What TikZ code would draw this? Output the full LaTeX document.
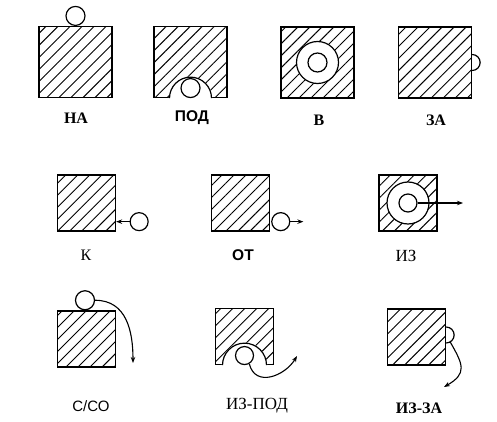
\documentclass[tikz,border=0pt]{standalone}
\usepackage{fontspec}
\setmainfont{Liberation Serif}
\setsansfont{Liberation Sans}
\usetikzlibrary{arrows.meta, positioning, calc, patterns.meta}

\begin{document}
\begin{tikzpicture}[x=1pt, y=1pt,
    block/.style={draw, line width=1.3pt, inner sep=0pt,
        pattern={Lines[angle=45, distance=8.5pt, line width=0.95pt]}},
    big/.style={block, minimum width=73pt, minimum height=71pt},
    small/.style={block, minimum width=58pt, minimum height=56pt},
    ball/.style={draw, circle, line width=1.2pt, fill=white, inner sep=0pt, minimum size=19pt},
    ring/.style={draw, circle, line width=1.2pt, fill=white, inner sep=0pt, minimum size=42pt},
    move/.style={-{Stealth[length=6pt, width=4.5pt]}, line width=1.1pt},
    lbl/.style={font={\fontsize{16}{18}\selectfont#1}},
    lbl/.default={}
]
    \useasboundingbox[fill=white] (0,0) rectangle (497,421);

    % Row 1: static positions
    \node[big] (na) at (75.5,359) {};
    \node[ball, above=0pt of na] (na-ball) {};
    \node[lbl=\bfseries] (na-lbl) at (76,303) {НА};

    \node[big] (pod) at (190.5,359) {};
    \fill[white] ($(pod.south)+(-21.6,-1)$) -- ++(0,1)
        arc[start angle=180, end angle=0, radius=21.6] -- ++(0,-1) -- cycle;
    \draw[line width=1.2pt] ($(pod.south)+(-21,0)$) arc[start angle=180, end angle=0, radius=21];
    \node[ball, anchor=south] (pod-ball) at (pod.south) {};
    \node[lbl=\sffamily\bfseries\fontsize{15.5}{18}\selectfont] (pod-lbl) at (192,303) {ПОД};

    \node[big] (v) at (317.5,358.5) {};
    \node[ring] (v-ring) at (v) {};
    \node[ball] (v-ball) at (v) {};
    \node[lbl=\bfseries] (v-lbl) at (319,301) {В};

    \node[big] (za) at (435,358.5) {};
    \draw[line width=1.2pt] ($(za.east)+(0,8)$) arc[start angle=90, end angle=-90, radius=8];
    \node[lbl=\bfseries] (za-lbl) at (436,301) {ЗА};

    % Row 2: straight motion
    \node[small] (k) at (86.5,218) {};
    \node[ball, minimum size=18pt] (k-ball) at ($(k.south east)+(23,10)$) {};
    \draw[move] (k-ball) -- (k-ball -| k.east);
    \node[lbl] (k-lbl) at (86,166) {К};

    \node[small] (ot) at (240.5,218) {};
    \node[ball, minimum size=18pt, anchor=west] (ot-ball) at ($(ot.south east)+(1,10)$) {};
    \coordinate (ot-end) at ($(ot-ball.east)+(13,0)$);
    \draw[move] (ot-ball) -- (ot-end);
    \node[lbl=\sffamily\bfseries\fontsize{15.5}{18}\selectfont] (ot-lbl) at (243,166) {ОТ};

    \node[small] (iz) at (408,218) {};
    \node[ring] (iz-ring) at (iz) {};
    \node[ball, minimum size=18pt] (iz-ball) at (iz) {};
    \coordinate (iz-end) at (463,218);
    \draw[move] (iz-ball) -- (iz-end);
    \node[lbl=\fontsize{17}{19}\selectfont] (iz-lbl) at (406,165) {ИЗ};

    % Row 3: curved motion
    \node[small] (sso) at (86.5,82) {};
    \node[ball, above=0pt of sso, xshift=-1.5pt] (sso-ball) {};
    \coordinate (sso-end) at (133,58);
    \draw[move] (sso-ball.east) to[out=0, in=90, looseness=1.1] (sso-end);
    \node[lbl=\sffamily\fontsize{15}{18}\selectfont] (sso-lbl) at (91,15) {С/СО};

    \node[small] (izpod) at (244.5,84.5) {};
    \fill[white] ($(izpod.south)+(-22.6,-1)$) -- ++(0,1)
        arc[start angle=180, end angle=0, radius=22.6] -- ++(0,-1) -- cycle;
    \draw[line width=1.2pt] ($(izpod.south)+(-22,0)$) arc[start angle=180, end angle=0, radius=22];
    \node[ball, minimum size=18pt, anchor=south] (izpod-ball) at (izpod.south) {};
    \coordinate (izpod-end) at (297,65);
    \draw[move] (izpod-ball.-60) .. controls +(6,-24) and +(-12,-20) .. (izpod-end);
    \node[lbl=\fontsize{17}{19}\selectfont] (izpod-lbl) at (257,15) {ИЗ-ПОД};

    \node[small] (izza) at (416.5,84) {};
    \coordinate (izza-bump) at ($(izza.east)+(0,2)$);
    \draw[line width=1.2pt] ($(izza-bump)+(0,8)$) arc[start angle=90, end angle=-90, radius=8];
    \coordinate (izza-end) at (444,34);
    \draw[move] ($(izza-bump)+(-60:8)$) to[out=-60, in=30, looseness=1.5] (izza-end);
    \node[lbl=\bfseries] (izza-lbl) at (419,13) {ИЗ-ЗА};
\end{tikzpicture}
\end{document}
